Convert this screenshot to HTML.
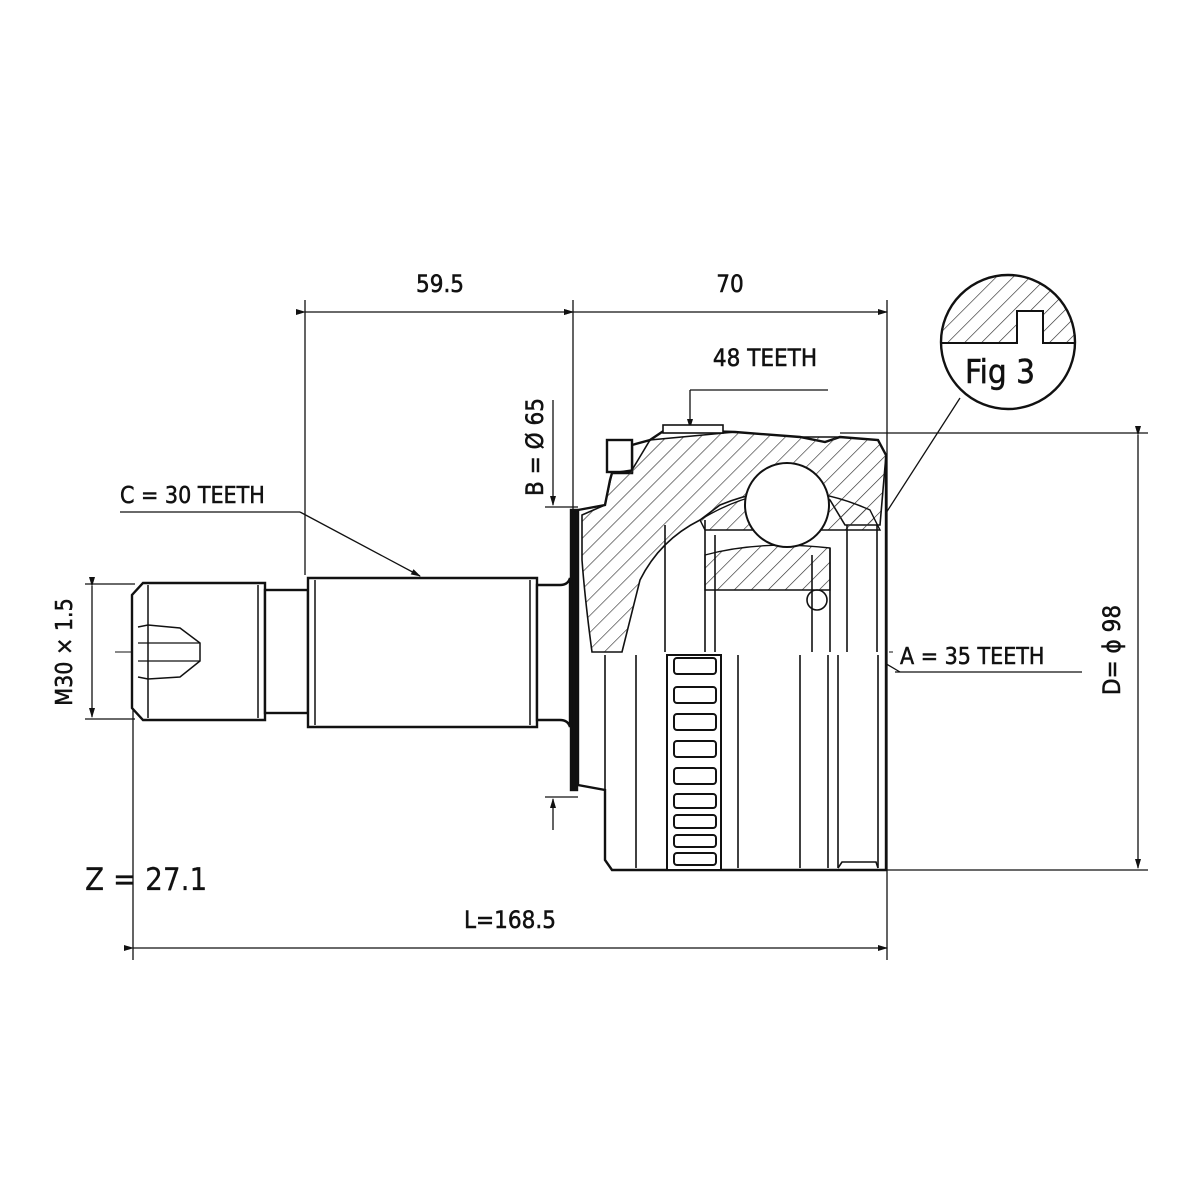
<!DOCTYPE html>
<html><head><meta charset="utf-8"><style>
html,body{margin:0;padding:0;background:#fff}
svg{display:block}
text{font-family:"DejaVu Sans Condensed","Liberation Sans",sans-serif;fill:#111;stroke:#111;stroke-width:0.5}
</style></head><body>
<svg width="1200" height="1200" viewBox="0 0 1200 1200" xmlns="http://www.w3.org/2000/svg">
<defs>
<pattern id="h" patternUnits="userSpaceOnUse" width="12" height="12" patternTransform="rotate(45)">
<line x1="0" y1="0" x2="0" y2="12" stroke="#333" stroke-width="1.3"/>
</pattern>
<marker id="a" markerWidth="10" markerHeight="8" refX="9" refY="4" orient="auto" markerUnits="userSpaceOnUse">
<path d="M0,1 L10,4 L0,7 Z" fill="#111"/>
</marker>
</defs>
<rect width="1200" height="1200" fill="#fff"/>
<g stroke="#111" fill="none" stroke-width="1.3">
<line x1="305" y1="300" x2="305" y2="575"/>
<line x1="573" y1="300" x2="573" y2="510"/>
<line x1="887" y1="300" x2="887" y2="960"/>
<line x1="305" y1="312" x2="573" y2="312" marker-start="url(#a)" marker-end="url(#a)"/>
<line x1="573" y1="312" x2="887" y2="312" marker-start="url(#a)" marker-end="url(#a)"/>
<line x1="133" y1="700" x2="133" y2="960"/>
<line x1="133" y1="948" x2="887" y2="948" marker-start="url(#a)" marker-end="url(#a)"/>
<line x1="85" y1="584" x2="135" y2="584"/>
<line x1="85" y1="719" x2="135" y2="719"/>
<line x1="92" y1="586" x2="92" y2="717" marker-start="url(#a)" marker-end="url(#a)"/>
<line x1="840" y1="433" x2="1148" y2="433"/>
<line x1="840" y1="870" x2="1148" y2="870"/>
<line x1="1138" y1="435" x2="1138" y2="868" marker-start="url(#a)" marker-end="url(#a)"/>
<line x1="545" y1="507" x2="578" y2="507"/>
<line x1="545" y1="797" x2="578" y2="797"/>
<line x1="553" y1="400" x2="553" y2="505" marker-end="url(#a)"/>
<line x1="553" y1="830" x2="553" y2="799" marker-end="url(#a)"/>
<line x1="690" y1="390" x2="828" y2="390"/>
<line x1="690" y1="390" x2="690" y2="428" marker-end="url(#a)"/>
<line x1="120" y1="512" x2="300" y2="512"/>
<line x1="300" y1="512" x2="420" y2="576" marker-end="url(#a)"/>
<line x1="895" y1="672" x2="1082" y2="672"/>
<line x1="900" y1="672" x2="765" y2="592" marker-end="url(#a)"/>
<line x1="830" y1="600" x2="960" y2="398"/>
<line x1="115" y1="652" x2="895" y2="652" stroke-dasharray="40,6,4,6" stroke-width="1"/>
<line x1="787" y1="455" x2="787" y2="560" stroke-dasharray="20,5,4,5" stroke-width="1"/>
<line x1="700" y1="505" x2="880" y2="505" stroke-dasharray="20,5,4,5" stroke-width="1"/>
</g>
<g stroke="#111" fill="#fff" stroke-width="2.4">
<path d="M143,583 L265,583 L265,720 L143,720 L132,708 L132,595 Z"/>
<line x1="148" y1="585" x2="148" y2="718" stroke-width="1.5"/>
<line x1="258" y1="585" x2="258" y2="718" stroke-width="1.5"/>
<path d="M138,627 L148,625 L180,628 L200,643 L200,661 L180,677 L148,679 L138,677" stroke-width="1.5" fill="none"/>
<line x1="138" y1="643" x2="200" y2="643" stroke-width="1.3"/>
<line x1="138" y1="661" x2="200" y2="661" stroke-width="1.3"/>
<rect x="265" y="590" width="43" height="123"/>
<path d="M308,578 L537,578 L537,727 L308,727 Z"/>
<line x1="315" y1="580" x2="315" y2="725" stroke-width="1.5"/>
<line x1="530" y1="580" x2="530" y2="725" stroke-width="1.5"/>
<path d="M537,585 L560,585 Q568,585 570,578 L570,727 Q568,720 560,720 L537,720 Z"/>
</g>
<g stroke="#111" stroke-width="2.4">
<path d="M578,510 L605,505 L610,480 L612,473 L632,473 L632,445 L650,440 L665,430 L735,432 L800,437 L825,442 L840,437 L878,440 L886,455 L886,870 L612,870 L605,860 L605,790 L578,785 Z" fill="#fff"/>
<rect x="571" y="510" width="6" height="280" fill="#111"/>
<rect x="607" y="440" width="25" height="32" fill="#fff"/>
<rect x="663" y="425" width="60" height="8" fill="#fff" stroke-width="1.6"/>
<path d="M582,515 L605,505 L612,473 L632,470 L650,440 L735,432 L800,437 L840,437 L878,440 L886,455 L880,525 L845,525 L830,500 Q780,480 720,505 L700,520 Q660,540 640,580 L622,652 L592,652 Q585,600 582,560 Z" fill="url(#h)" stroke-width="1.6"/>
<path d="M700,520 Q740,495 787,490 Q830,492 870,510 L880,530 L705,530 Z" fill="url(#h)" stroke-width="1.4"/>
<path d="M705,555 Q760,540 830,548 L830,590 L705,590 Z" fill="url(#h)" stroke-width="1.4"/>
<circle cx="787" cy="505" r="42" fill="#fff" stroke-width="2"/>
<g stroke-width="1.6" fill="none">
<line x1="705" y1="520" x2="705" y2="652"/>
<line x1="715" y1="535" x2="715" y2="652"/>
<line x1="665" y1="525" x2="665" y2="652"/>
<line x1="812" y1="555" x2="812" y2="652"/>
<line x1="830" y1="548" x2="830" y2="652"/>
<line x1="847" y1="525" x2="847" y2="652"/>
<line x1="877" y1="525" x2="877" y2="652"/>
<circle cx="817" cy="600" r="10"/>
<line x1="605" y1="655" x2="605" y2="860"/>
<line x1="636" y1="655" x2="636" y2="868"/>
<line x1="738" y1="655" x2="738" y2="868"/>
<line x1="800" y1="655" x2="800" y2="868"/>
<line x1="828" y1="655" x2="828" y2="868"/>
<line x1="838" y1="655" x2="838" y2="868"/>
<line x1="878" y1="655" x2="878" y2="868"/>
<path d="M838,868 L842,862 L876,862 L878,868"/>
</g>
<rect x="667" y="655" width="54" height="215" fill="#fff" stroke-width="2"/>
<g fill="#fff" stroke-width="2">
<rect x="674" y="658" width="42" height="16" rx="3"/>
<rect x="674" y="687" width="42" height="16" rx="3"/>
<rect x="674" y="714" width="42" height="16" rx="3"/>
<rect x="674" y="741" width="42" height="16" rx="3"/>
<rect x="674" y="768" width="42" height="16" rx="3"/>
<rect x="674" y="794" width="42" height="14" rx="3"/>
<rect x="674" y="815" width="42" height="13" rx="3"/>
<rect x="674" y="835" width="42" height="12" rx="3"/>
<rect x="674" y="853" width="42" height="12" rx="3"/>
</g>
</g>
<clipPath id="c"><circle cx="1008" cy="342" r="67"/></clipPath>
<path d="M930,343 L1017,343 L1017,311 L1043,311 L1043,343 L1090,343 L1090,270 L930,270 Z" fill="url(#h)" clip-path="url(#c)" stroke="#111" stroke-width="2"/>
<circle cx="1008" cy="342" r="67" fill="none" stroke="#111" stroke-width="2.4"/>
<text x="1000" y="383" font-size="33" text-anchor="middle">Fig 3</text>
<text x="440" y="292" font-size="24" text-anchor="middle">59.5</text>
<text x="730" y="292" font-size="24" text-anchor="middle">70</text>
<text x="765" y="366" font-size="24" text-anchor="middle">48 TEETH</text>
<text x="120" y="503" font-size="23" font-family="Liberation Sans">C = 30 TEETH</text>
<text x="900" y="664" font-size="23" font-family="Liberation Sans">A = 35 TEETH</text>
<text x="510" y="928" font-size="24" text-anchor="middle">L=168.5</text>
<text x="85" y="890" font-size="31" font-family="Liberation Sans" style="stroke-width:0.2">Z = 27.1</text>
<text transform="translate(72,652) rotate(-90)" font-size="23" text-anchor="middle">M30 × 1.5</text>
<text transform="translate(543,447) rotate(-90)" font-size="24" text-anchor="middle">B = Ø 65</text>
<text transform="translate(1120,650) rotate(-90)" font-size="24" text-anchor="middle">D= ϕ 98</text>
</svg>
</body></html>
